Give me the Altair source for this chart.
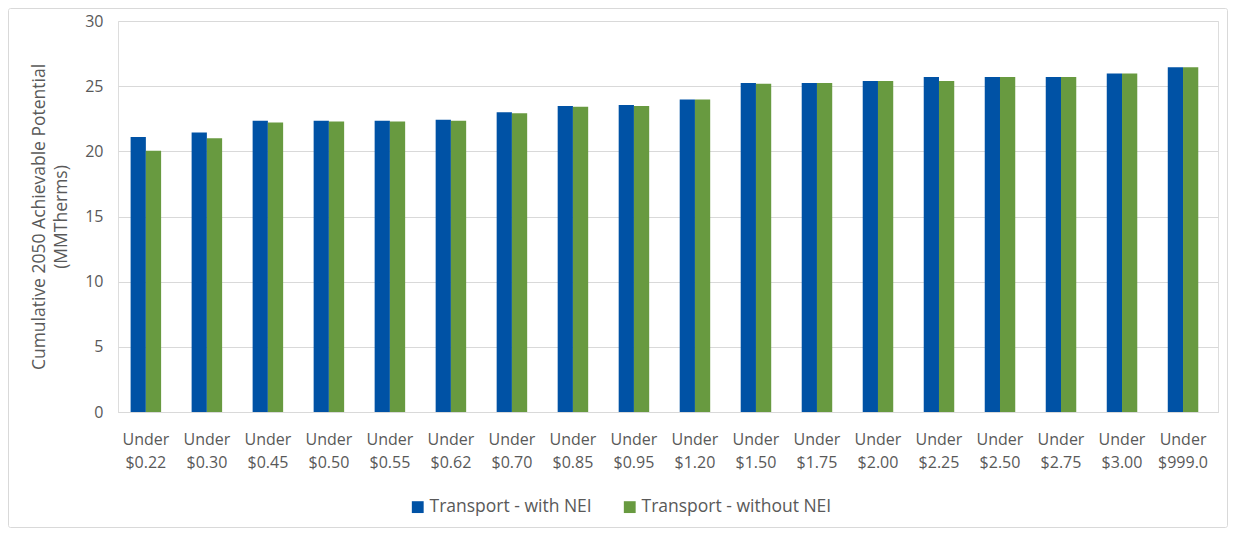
import altair as alt
import pandas as pd

categories = ["Under $0.22", "Under $0.30", "Under $0.45", "Under $0.50", "Under $0.55",
              "Under $0.62", "Under $0.70", "Under $0.85", "Under $0.95", "Under $1.20",
              "Under $1.50", "Under $1.75", "Under $2.00", "Under $2.25", "Under $2.50",
              "Under $2.75", "Under $3.00", "Under $999.0"]
with_nei = [21.1, 21.45, 22.35, 22.35, 22.35, 22.42, 23.0, 23.48, 23.56, 23.98,
            25.25, 25.25, 25.4, 25.7, 25.7, 25.7, 25.98, 26.45]
without_nei = [20.05, 21.0, 22.22, 22.28, 22.28, 22.35, 22.93, 23.42, 23.48, 23.98,
               25.18, 25.25, 25.4, 25.4, 25.7, 25.7, 25.98, 26.45]
series = ["Transport - with NEI", "Transport - without NEI"]
colors = ["#0052A5", "#689A40"]

rows = []
for c, a, b in zip(categories, with_nei, without_nei):
    rows.append({"cat": c, "series": series[0], "value": a})
    rows.append({"cat": c, "series": series[1], "value": b})
df = pd.DataFrame(rows)

FONT = "Open Sans"
TXT = "#595959"

bars = alt.Chart(df).mark_bar().encode(
    x=alt.X("cat:N", sort=categories, title=None,
            scale=alt.Scale(paddingInner=0.5, paddingOuter=0.265, align=0.39),
            axis=alt.Axis(labelAngle=0, labelExpr="split(datum.label, ' ')",
                          labelFont=FONT, labelFontSize=16, labelColor=TXT,
                          labelPadding=19, ticks=False, domain=True,
                          domainColor="#D9D9D9", grid=False, labelLineHeight=23)),
    xOffset=alt.XOffset("series:N", sort=series),
    y=alt.Y("value:Q", scale=alt.Scale(domain=[0, 30]),
            title=["Cumulative 2050 Achievable Potential", "(MMTherms)"],
            axis=alt.Axis(values=[0, 5, 10, 15, 20, 25, 30], ticks=False, domain=False,
                          gridColor="#D9D9D9", labelFont=FONT, labelFontSize=16,
                          labelColor=TXT, labelPadding=15, titleFont=FONT,
                          titleFontSize=17.5, titleFontWeight="normal", titleColor=TXT,
                          titlePadding=14, titleLineHeight=22)),
    color=alt.Color("series:N", sort=series,
                    scale=alt.Scale(domain=series, range=colors),
                    legend=alt.Legend(title=None, orient="none", direction="horizontal",
                                      legendX=291, legendY=477, symbolType="square",
                                      symbolSize=140, symbolStrokeWidth=0,
                                      labelFont=FONT, labelFontSize=17.5, labelColor=TXT,
                                      labelLimit=0, columnPadding=29, labelOffset=3)),
)

border = alt.Chart(pd.DataFrame({"a": [0]})).mark_rect(
    fill=None, stroke="#D9D9D9", strokeWidth=1, cornerRadius=2
).encode(x=alt.value(-109.5), x2=alt.value(1109.5), y=alt.value(-12.5), y2=alt.value(506.5))

chart = alt.layer(border, bars).properties(
    width=1100, height=391,
    autosize=alt.AutoSizeParams(type="none"),
    padding={"left": 110, "top": 13, "right": 10, "bottom": 116},
).configure_view(stroke=None).configure(background="white")

chart.save("out.html", embed_options={"renderer": "svg", "actions": False})
